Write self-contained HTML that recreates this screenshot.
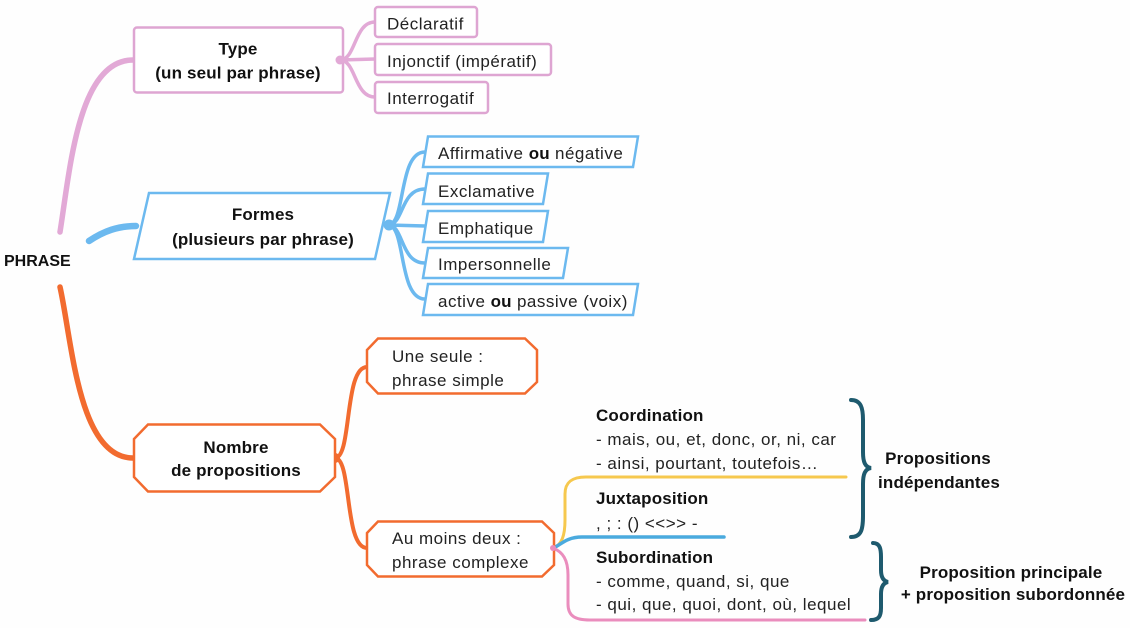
<!DOCTYPE html>
<html><head><meta charset="utf-8">
<style>
html,body{margin:0;padding:0;background:#fefefe;}
svg{display:block;}
text{font-family:"Liberation Sans",sans-serif;fill:#222;font-size:17px;letter-spacing:0.5px;}
.b{font-weight:bold;fill:#111;letter-spacing:0.15px;}
</style></head>
<body>
<svg width="1130" height="628" viewBox="0 0 1130 628" xmlns="http://www.w3.org/2000/svg">
<rect width="1130" height="628" fill="#fefefe"/>

<!-- main branches from PHRASE -->
<path d="M60,232 C70,170 78,60 133,60" fill="none" stroke="#e2a9d6" stroke-width="5.5" stroke-linecap="round"/>
<path d="M89,241 C104,231 118,226 136,226" fill="none" stroke="#6cb9ef" stroke-width="6.5" stroke-linecap="round"/>
<path d="M60,287 C72,340 78,458 133,458" fill="none" stroke="#f26b2f" stroke-width="5.5" stroke-linecap="round"/>

<!-- Type -->
<rect x="134" y="27.5" width="209" height="65" rx="3" fill="#fff" stroke="#dea5d2" stroke-width="2.5"/>
<text class="b" x="238" y="54.5" text-anchor="middle">Type</text>
<text class="b" x="238" y="78.5" text-anchor="middle">(un seul par phrase)</text>
<g fill="none" stroke="#e2a9d6" stroke-width="3.5" stroke-linecap="round">
<path d="M340,60 C356,60 354,22 375,22"/>
<path d="M340,60 L375,59"/>
<path d="M340,60 C356,60 354,97 375,97"/>
</g>
<circle cx="340" cy="60" r="4.5" fill="#e2a9d6"/>
<g fill="#fff" stroke="#dea5d2" stroke-width="2.5">
<rect x="375" y="7" width="102" height="30" rx="3"/>
<rect x="375" y="44" width="176" height="31" rx="3"/>
<rect x="375" y="82" width="113" height="31" rx="3"/>
</g>
<text x="387" y="29.5">Déclaratif</text>
<text x="387" y="67">Injonctif (impératif)</text>
<text x="387" y="104">Interrogatif</text>

<!-- Formes -->
<polygon points="149,193 390,193 375,259 134,259" fill="#fff" stroke="#6cb9ef" stroke-width="2.5"/>
<text class="b" x="263" y="220" text-anchor="middle">Formes</text>
<text class="b" x="263" y="245" text-anchor="middle">(plusieurs par phrase)</text>
<g fill="none" stroke="#6cb9ef" stroke-width="3.5" stroke-linecap="round">
<path d="M388,225 C406,225 398,152 425,152"/>
<path d="M388,225 C404,225 400,189 425,189"/>
<path d="M388,225 L425,226"/>
<path d="M388,225 C404,225 400,263 425,263"/>
<path d="M388,225 C406,225 398,299 425,299"/>
</g>
<circle cx="389" cy="225" r="5.5" fill="#6cb9ef"/>
<g fill="#fff" stroke="#6cb9ef" stroke-width="2.5">
<polygon points="428,136.5 638,136.5 633,167 423,167"/>
<polygon points="428,173.5 548,173.5 543,204 423,204"/>
<polygon points="428,211 548,211 543,242 423,242"/>
<polygon points="428,248 568,248 563,278 423,278"/>
<polygon points="428,284 638,284 633,315 423,315"/>
</g>
<text x="438" y="159">Affirmative <tspan class="b">ou</tspan> négative</text>
<text x="438" y="197">Exclamative</text>
<text x="438" y="234">Emphatique</text>
<text x="438" y="270">Impersonnelle</text>
<text x="438" y="307">active <tspan class="b">ou</tspan> passive (voix)</text>

<!-- PHRASE -->
<text class="b" x="4" y="266" style="letter-spacing:0px;font-size:16px">PHRASE</text>

<!-- Nombre -->
<g fill="none" stroke="#f26b2f" stroke-width="4" stroke-linecap="round">
<path d="M335,458 C352,458 344,367 367,367"/>
<path d="M335,458 C352,458 344,548 367,548"/>
</g>
<circle cx="335" cy="458" r="5" fill="#f26b2f"/>
<polygon points="148,424.5 320,424.5 335,439 335,477 320,491.5 148,491.5 134,477 134,439" fill="#fff" stroke="#f26b2f" stroke-width="2.5"/>
<text class="b" x="236" y="453" text-anchor="middle">Nombre</text>
<text class="b" x="236" y="476" text-anchor="middle">de propositions</text>

<polygon points="378,338.5 525,338.5 537,350 537,382 525,393.5 378,393.5 367,382 367,350" fill="#fff" stroke="#f26b2f" stroke-width="2.5"/>
<text x="392" y="362">Une seule :</text>
<text x="392" y="386">phrase simple</text>

<!-- sub branches -->
<path d="M553,548 C562,545 565,535 565,520 L565,494 C565,482 572,477 586,477 L846,477" fill="none" stroke="#f6c84e" stroke-width="3" stroke-linecap="round"/>
<path d="M553,548 C560,546 565,537 582,537 L724,537" fill="none" stroke="#4aaade" stroke-width="3.5" stroke-linecap="round"/>
<path d="M553,548 C563,552 568,560 568,575 L568,604 C568,616 575,620 590,620 L865,620" fill="none" stroke="#ea8dbd" stroke-width="3" stroke-linecap="round"/>

<polygon points="378,521.5 542,521.5 554,533 554,565 542,576.5 378,576.5 367,565 367,533" fill="#fff" stroke="#f26b2f" stroke-width="2.5"/>
<text x="392" y="544">Au moins deux :</text>
<text x="392" y="568">phrase complexe</text>
<circle cx="553" cy="548" r="3" fill="#ea8dbd"/>

<text class="b" x="596" y="421">Coordination</text>
<text x="596" y="445">- mais, ou, et, donc, or, ni, car</text>
<text x="596" y="469">- ainsi, pourtant, toutefois…</text>
<text class="b" x="596" y="504">Juxtaposition</text>
<text x="596" y="529">, ; : () &lt;&lt;&gt;&gt; -</text>
<text class="b" x="596" y="563">Subordination</text>
<text x="596" y="587">- comme, quand, si, que</text>
<text x="596" y="610">- qui, que, quoi, dont, où, lequel</text>

<!-- braces -->
<g fill="none" stroke="#1e5a6e" stroke-width="4" stroke-linecap="round">
<path d="M851,400 C861,400 863,408 863,420 L863,452 C863,462 865,467 871,468 C865,469 863,474 863,484 L863,516 C863,530 861,537 851,537"/>
<path d="M873,543 C880,543 881,549 881,557 L881,570 C881,577 883,581 888,582 C883,583 881,587 881,594 L881,608 C881,616 879,620 871,620"/>
</g>
<text class="b" x="938" y="464" text-anchor="middle">Propositions</text>
<text class="b" x="939" y="488" text-anchor="middle">indépendantes</text>
<text class="b" x="1011" y="578" text-anchor="middle">Proposition principale</text>
<text class="b" x="1013" y="600" text-anchor="middle">+ proposition subordonnée</text>
</svg>
</body></html>
